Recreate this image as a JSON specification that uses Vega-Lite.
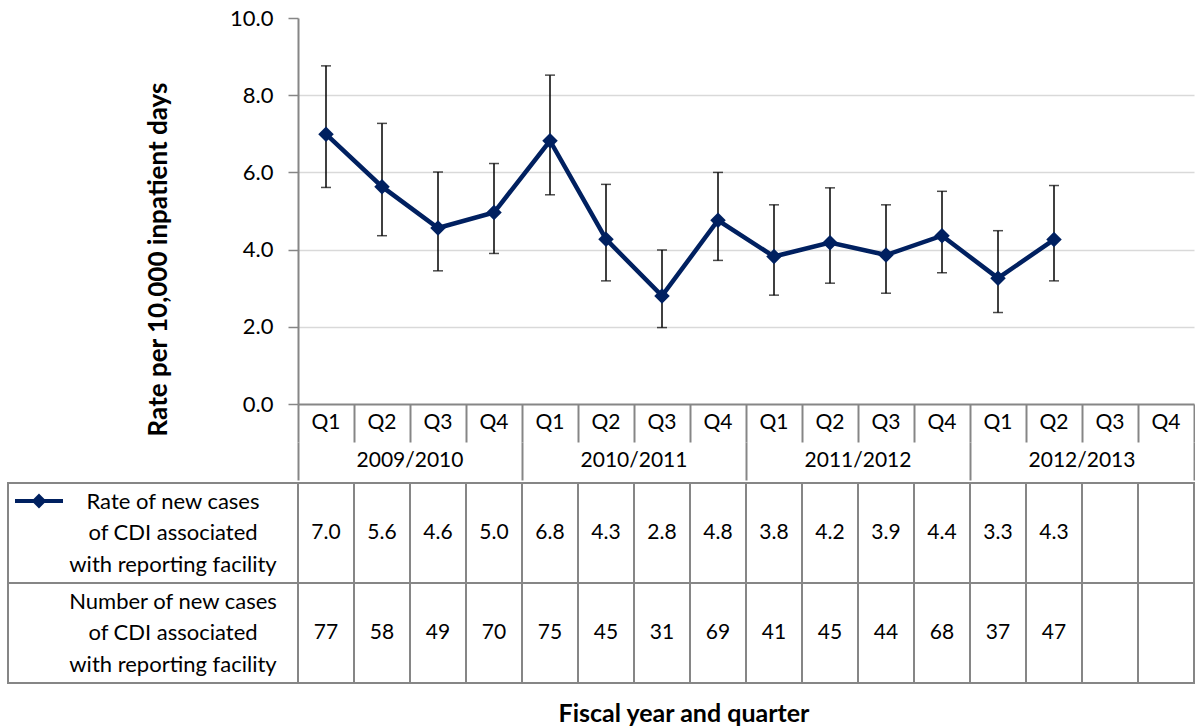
{
  "$schema": "https://vega.github.io/schema/vega-lite/v6.json",
  "padding": {"left": 7, "top": 7, "right": 0, "bottom": 2},
  "background": "white",
  "config": {"view": {"stroke": null}, "font": "Lato"},
  "datasets": {
    "quarters": [
      {"id": "2009/2010 Q1", "year": "2009/2010", "q": "Q1", "rate": 6.99, "lo": 5.61, "hi": 8.76, "n": 77},
      {"id": "2009/2010 Q2", "year": "2009/2010", "q": "Q2", "rate": 5.63, "lo": 4.36, "hi": 7.27, "n": 58},
      {"id": "2009/2010 Q3", "year": "2009/2010", "q": "Q3", "rate": 4.56, "lo": 3.45, "hi": 6.01, "n": 49},
      {"id": "2009/2010 Q4", "year": "2009/2010", "q": "Q4", "rate": 4.96, "lo": 3.90, "hi": 6.23, "n": 70},
      {"id": "2010/2011 Q1", "year": "2010/2011", "q": "Q1", "rate": 6.82, "lo": 5.42, "hi": 8.52, "n": 75},
      {"id": "2010/2011 Q2", "year": "2010/2011", "q": "Q2", "rate": 4.27, "lo": 3.19, "hi": 5.69, "n": 45},
      {"id": "2010/2011 Q3", "year": "2010/2011", "q": "Q3", "rate": 2.80, "lo": 1.98, "hi": 3.99, "n": 31},
      {"id": "2010/2011 Q4", "year": "2010/2011", "q": "Q4", "rate": 4.76, "lo": 3.72, "hi": 6.00, "n": 69},
      {"id": "2011/2012 Q1", "year": "2011/2012", "q": "Q1", "rate": 3.82, "lo": 2.82, "hi": 5.16, "n": 41},
      {"id": "2011/2012 Q2", "year": "2011/2012", "q": "Q2", "rate": 4.18, "lo": 3.13, "hi": 5.60, "n": 45},
      {"id": "2011/2012 Q3", "year": "2011/2012", "q": "Q3", "rate": 3.86, "lo": 2.87, "hi": 5.16, "n": 44},
      {"id": "2011/2012 Q4", "year": "2011/2012", "q": "Q4", "rate": 4.36, "lo": 3.40, "hi": 5.51, "n": 68},
      {"id": "2012/2013 Q1", "year": "2012/2013", "q": "Q1", "rate": 3.26, "lo": 2.37, "hi": 4.49, "n": 37},
      {"id": "2012/2013 Q2", "year": "2012/2013", "q": "Q2", "rate": 4.26, "lo": 3.19, "hi": 5.66, "n": 47},
      {"id": "2012/2013 Q3", "year": "2012/2013", "q": "Q3", "rate": null, "lo": null, "hi": null, "n": null},
      {"id": "2012/2013 Q4", "year": "2012/2013", "q": "Q4", "rate": null, "lo": null, "hi": null, "n": null}
    ],
    "rowlabels": [
      {"row": "rate", "label": "Rate of new cases\nof CDI associated\nwith reporting facility"},
      {"row": "number", "label": "Number of new cases\nof CDI associated\nwith reporting facility"}
    ]
  },
  "title": {"text": "Fiscal year and quarter", "orient": "bottom", "anchor": "middle", "fontSize": 25, "fontWeight": "bold", "font": "Lato", "color": "black", "offset": 18, "dx": 83},
  "spacing": 0,
  "bounds": "full",
  "resolve": {"scale": {"x": "independent", "y": "independent", "color": "independent"}},
  "vconcat": [
    {
      "spacing": 0,
      "bounds": "flush",
      "resolve": {"scale": {"x": "independent", "y": "independent", "color": "independent"}},
      "hconcat": [
        {"width": 290, "height": 464, "data": {"values": [{}]}, "mark": {"type": "rect", "opacity": 0, "stroke": "white", "strokeWidth": 2}},
        {
          "spacing": 0,
          "bounds": "flush",
          "resolve": {"scale": {"x": "independent", "y": "independent"}},
          "vconcat": [
            {
              "width": 896,
              "height": 386,
              "data": {"name": "quarters"},
              "encoding": {
                "x": {"field": "id", "type": "nominal", "sort": null,
                  "scale": {"domain": ["2009/2010 Q1","2009/2010 Q2","2009/2010 Q3","2009/2010 Q4","2010/2011 Q1","2010/2011 Q2","2010/2011 Q3","2010/2011 Q4","2011/2012 Q1","2011/2012 Q2","2011/2012 Q3","2011/2012 Q4","2012/2013 Q1","2012/2013 Q2","2012/2013 Q3","2012/2013 Q4"], "paddingInner": 0, "paddingOuter": 0},
                  "axis": {"labels": false, "ticks": false, "title": null, "grid": false, "domainColor": "#868686", "domainWidth": 2}}
              },
              "layer": [
                {
                  "mark": {"type": "errorbar", "ticks": true, "size": 10, "thickness": 1.5, "color": "black"},
                  "encoding": {
                    "y": {"field": "lo", "type": "quantitative", "title": "Rate per 10,000 inpatient days",
                      "scale": {"domain": [0, 10], "nice": false, "zero": true},
                      "axis": {"values": [0, 2, 4, 6, 8, 10], "format": ".1f", "grid": true,
                        "gridColor": {"condition": {"test": "datum.value === 10 || datum.value === 0", "value": "transparent"}, "value": "#d9d9d9"},
                        "gridWidth": 1.3, "domainColor": "#868686", "domainWidth": 2, "tickColor": "#868686", "tickWidth": 1.5, "tickSize": 10,
                        "labelFontSize": 22, "labelFont": "Lato", "labelColor": "black", "labelPadding": 15,
                        "titleFont": "Lato", "titleFontSize": 26, "titleFontWeight": "bold", "titleColor": "black",
                        "titleX": -140, "titleY": 241, "titleBaseline": "middle", "titleAlign": "center"}},
                    "y2": {"field": "hi"}
                  }
                },
                {
                  "mark": {"type": "line", "strokeWidth": 4.5, "color": "#002060"},
                  "encoding": {"y": {"field": "rate", "type": "quantitative", "title": "Rate per 10,000 inpatient days"}}
                },
                {
                  "mark": {"type": "point", "shape": "diamond", "filled": true, "size": 240, "opacity": 1, "color": "#002060"},
                  "encoding": {"y": {"field": "rate", "type": "quantitative", "title": "Rate per 10,000 inpatient days"}}
                }
              ]
            },
            {
              "width": 896,
              "height": 38,
              "data": {"name": "quarters"},
              "mark": {"type": "text", "fontSize": 21, "font": "Lato", "color": "black"},
              "encoding": {
                "x": {"field": "id", "type": "nominal", "sort": null,
                  "scale": {"domain": ["2009/2010 Q1","2009/2010 Q2","2009/2010 Q3","2009/2010 Q4","2010/2011 Q1","2010/2011 Q2","2010/2011 Q3","2010/2011 Q4","2011/2012 Q1","2011/2012 Q2","2011/2012 Q3","2011/2012 Q4","2012/2013 Q1","2012/2013 Q2","2012/2013 Q3","2012/2013 Q4"], "paddingInner": 0, "paddingOuter": 0},
                  "axis": {"orient": "top", "grid": true, "gridColor": "#868686", "gridWidth": 2, "tickBand": "extent", "labels": false, "ticks": false, "domain": false, "title": null}},
                "text": {"field": "q"}
              }
            },
            {
              "width": 896,
              "height": 38,
              "data": {"name": "quarters"},
              "transform": [{"aggregate": [{"op": "count", "as": "c"}], "groupby": ["year"]}],
              "mark": {"type": "text", "fontSize": 21, "font": "Lato", "color": "black"},
              "encoding": {
                "x": {"field": "year", "type": "nominal", "sort": null,
                  "scale": {"domain": ["2009/2010", "2010/2011", "2011/2012", "2012/2013"], "paddingInner": 0, "paddingOuter": 0},
                  "axis": {"orient": "top", "grid": true, "gridColor": "#868686", "gridWidth": 2, "tickBand": "extent", "labels": false, "ticks": false, "domain": false, "title": null}},
                "text": {"field": "year"}
              }
            }
          ]
        }
      ]
    },
    {
      "spacing": 0,
      "bounds": "flush",
      "resolve": {"scale": {"x": "independent", "y": "independent", "color": "independent"}},
      "hconcat": [
        {
          "width": 290,
          "height": 200,
          "data": {"name": "rowlabels"},
          "layer": [
            {
              "mark": {"type": "rect", "filled": false, "color": "#868686", "strokeWidth": 2},
              "encoding": {"y": {"field": "row", "type": "nominal", "scale": {"domain": ["rate", "number"], "paddingInner": 0, "paddingOuter": 0}, "axis": null}}
            },
            {
              "mark": {"type": "text", "fontSize": 22, "font": "Lato", "color": "black", "lineBreak": "\n", "lineHeight": 31.5, "align": "center", "baseline": "middle", "dx": 20, "dy": -31.5},
              "encoding": {"y": {"field": "row", "type": "nominal", "axis": null}, "text": {"field": "label"}}
            },
            {
              "data": {"values": []},
              "mark": {"type": "line"},
              "encoding": {
                "color": {"datum": "Rate of new cases of CDI associated with reporting facility", "type": "nominal",
                  "scale": {"range": ["#002060"]},
                  "legend": {"orient": "none", "legendX": 24, "legendY": 11, "title": null, "labelExpr": "''", "padding": 0,
                    "symbolType": "M-4.8,0L4.8,0M0,-0.92L0.92,0L0,0.92L-0.92,0Z", "symbolSize": 100, "symbolStrokeWidth": 4,
                    "symbolStrokeColor": "#002060", "symbolFillColor": "#002060"}}
              }
            }
          ]
        },
        {
          "width": 896,
          "height": 200,
          "data": {"name": "quarters"},
          "encoding": {
            "x": {"field": "id", "type": "nominal", "sort": null,
              "scale": {"domain": ["2009/2010 Q1","2009/2010 Q2","2009/2010 Q3","2009/2010 Q4","2010/2011 Q1","2010/2011 Q2","2010/2011 Q3","2010/2011 Q4","2011/2012 Q1","2011/2012 Q2","2011/2012 Q3","2011/2012 Q4","2012/2013 Q1","2012/2013 Q2","2012/2013 Q3","2012/2013 Q4"], "paddingInner": 0, "paddingOuter": 0},
              "axis": null}
          },
          "layer": [
            {
              "mark": {"type": "rect", "filled": false, "color": "#868686", "strokeWidth": 2},
              "encoding": {"y": {"datum": "rate", "type": "nominal", "scale": {"domain": ["rate", "number"], "paddingInner": 0, "paddingOuter": 0}, "axis": null}}
            },
            {
              "mark": {"type": "rect", "filled": false, "color": "#868686", "strokeWidth": 2},
              "encoding": {"y": {"datum": "number", "type": "nominal"}}
            },
            {
              "transform": [{"filter": "isValid(datum.rate)"}],
              "mark": {"type": "text", "fontSize": 21, "font": "Lato", "color": "black"},
              "encoding": {"y": {"datum": "rate", "type": "nominal"}, "text": {"field": "rate", "type": "quantitative", "format": ".1f"}}
            },
            {
              "transform": [{"filter": "isValid(datum.n)"}],
              "mark": {"type": "text", "fontSize": 21, "font": "Lato", "color": "black"},
              "encoding": {"y": {"datum": "number", "type": "nominal"}, "text": {"field": "n", "type": "quantitative", "format": "d"}}
            }
          ]
        }
      ]
    }
  ]
}
